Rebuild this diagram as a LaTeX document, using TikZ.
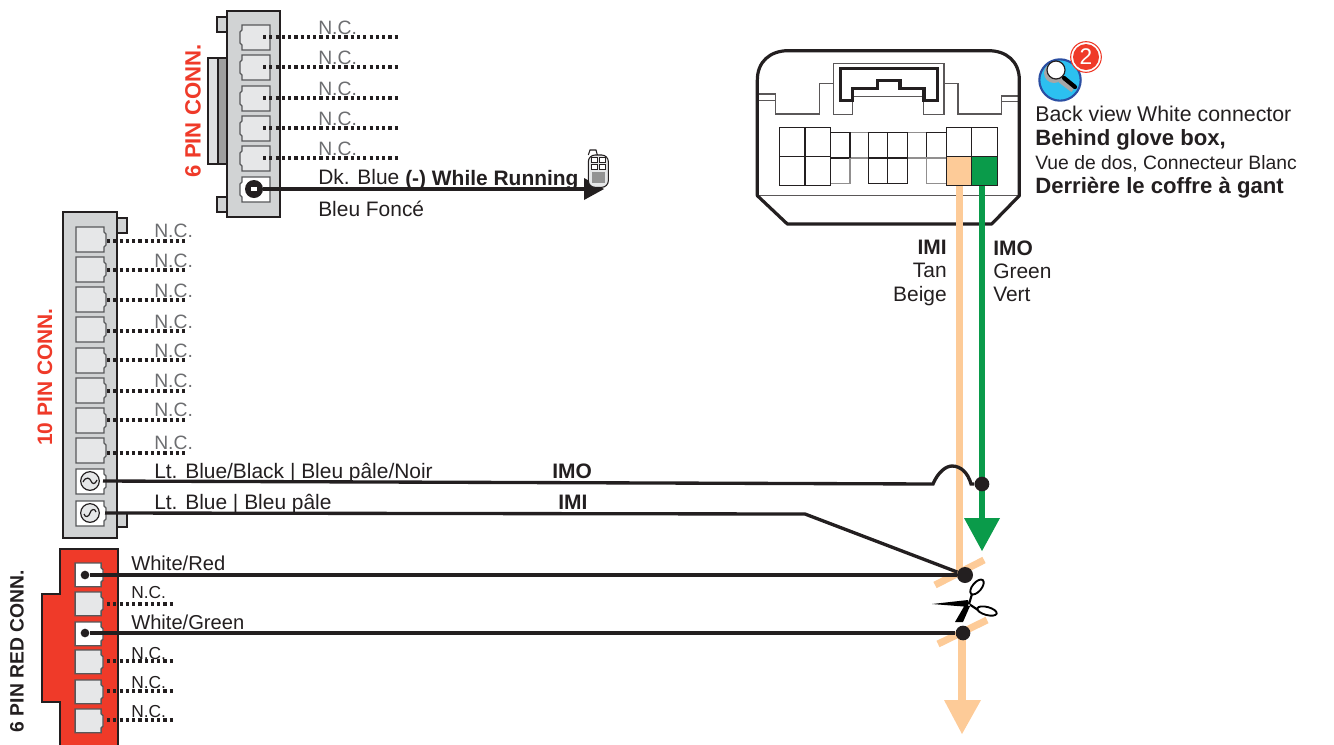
\documentclass[tikz,border=0pt]{standalone}
\usepackage{fontspec}
\setmainfont{Liberation Sans}
\definecolor{ink}{HTML}{231F20}
\definecolor{tanw}{HTML}{FDCB98}
\definecolor{greenw}{HTML}{0A9B4A}
\definecolor{redc}{HTML}{EF3A29}
\definecolor{bodyg}{HTML}{D1D3D4}
\definecolor{ping}{HTML}{E6E7E8}
\definecolor{ncg}{HTML}{6D6E71}
\definecolor{iconb}{HTML}{2CC0F0}
\definecolor{iconr}{HTML}{2B4EA2}
\tikzset{
  x=0.75pt,y=-0.75pt,
  body/.style={draw=ink,line width=1.5pt,line join=miter},
  pinbox/.style={draw=ncg!80!black,line width=1.0pt,fill=ping},
  ncline/.style={draw=ink,line width=2.6pt,dash pattern=on 2.4pt off 2.3pt},
  wire/.style={draw=ink,line width=2.5pt},
  dot/.style={circle,fill=ink,inner sep=0pt},
  lab/.style={anchor=base west,inner sep=0pt,text=ink,font=\fontsize{15.7}{16}\selectfont},
  nctop/.style={lab,text=ncg,font=\fontsize{14.5}{16}\selectfont},
  ncred/.style={lab,font=\fontsize{13}{14}\selectfont},
  labb/.style={lab,font=\bfseries\fontsize{15.7}{16}\selectfont},
  labr/.style={anchor=base east,inner sep=0pt,text=ink,font=\fontsize{15.7}{16}\selectfont},
  labrb/.style={labr,font=\bfseries\fontsize{15.7}{16}\selectfont},
  side/.style={rotate=90,inner sep=0pt},
  thinc/.style={draw=ink!75,line width=0.9pt},
  cell/.style={draw=ink,line width=1.1pt},
  cellg/.style={draw=ink!50,line width=1.0pt},
  tanline/.style={draw=tanw,line width=5.3pt},
  grnline/.style={draw=greenw,line width=5pt},
}
% \pinshape{x}{y}{fill}{xscale}: 30x25 socket, notch toward x=0 side
\newcommand{\pinshape}[4]{%
  \draw[pinbox,fill=#3,shift={(#1,#2)},xscale=#4] (2,0)--(30,0)--(30,25)--(2,25)--(2,20)--(0,18)--(0,7)--(2,5)--cycle;}
\begin{document}
\begin{tikzpicture}
\useasboundingbox (0,0) rectangle (1334,744);

% ---------- top 6 pin connector
\draw[body,fill=bodyg!70] (208,58) rectangle (218,164);
\draw[body,fill=gray!75] (218,58) rectangle (227,164);
\draw[body,fill=bodyg] (217,17) rectangle (227,32);
\draw[body,fill=bodyg] (217,197) rectangle (227,212);
\draw[body,fill=bodyg] (227,11) rectangle (280,217);
\foreach \i/\t/\l/\b in {1/25/37/34,2/55/67/64,3/86/98/95,4/116/128/125,5/146/158/155}{
  \pinshape{240}{\t}{ping}{1}
  \coordinate (ta\i) at (263,\l);
  \coordinate (tb\i) at (400,\l);
  \draw[ncline] (ta\i) -- (tb\i);
  \node[nctop] (tn\i) at (318,\b) {N.C.};
}
\pinshape{240}{177}{white}{1}
\node[dot,minimum size=13.5pt] (tp6) at (254,189) {};
\fill[white] (251,187) rectangle (257,191);
\coordinate (tarrow) at (604,189);
\draw[wire] (tp6) -- (590,189);
\fill[ink] (tarrow) -- (584,178) -- (584,200) -- cycle;
\node[lab] (dk) at (318,184) {Dk. Blue};
\node[labb] (run) at (405,185) {(-) While Running};
\node[lab] (bf) at (318,216) {Bleu Foncé};
\node[side,text=redc,font=\bfseries\fontsize{16.6}{17}\selectfont] (c6) at (193,111) {6 PIN CONN.};

% remote
\begin{scope}[shift={(560,140)},x=0.25pt,y=-0.25pt,line width=0.8pt]
  \draw[ink,fill=white] (85,45) -- (90,30) -- (108,30) -- (112,45);
  \draw[ink,fill=ping,rounded corners=5pt] (85,45) rectangle (145,142);
  \foreach \a/\b in {94/52,118/52,94/73,118/73}
    \draw[ink,fill=white,line width=0.7pt] (\a,\b) rectangle +(17,16);
  \fill[gray!85] (95,95) rectangle (135,130);
\end{scope}

% ---------- 10 pin connector
\draw[body,fill=bodyg] (117,218) rectangle (127,233);
\draw[body,fill=bodyg] (117,513) rectangle (127,527);
\draw[body,fill=bodyg] (63,212) rectangle (117,538);
\foreach \i/\t/\l/\b in {1/227/241/237,2/257/270/267,3/287/300/297,4/317/331/328,5/348/360/357,6/378/391/387,7/408/420/416,8/438/453/449}{
  \pinshape{106}{\t}{ping}{-1}
  \coordinate (ma\i) at (107,\l);
  \coordinate (mb\i) at (188,\l);
  \draw[ncline] (ma\i) -- (mb\i);
  \node[nctop] (mn\i) at (154,\b) {N.C.};
}
\pinshape{106}{469}{white}{-1}
\pinshape{106}{501}{white}{-1}
\node[circle,draw=ink,line width=0.9pt,fill=ping,minimum size=14pt,inner sep=0pt] (m9) at (90,481) {};
\node[circle,draw=ink,line width=0.9pt,fill=ping,minimum size=14pt,inner sep=0pt] (m10) at (90,513) {};
\draw[ink,line width=0.9pt] (83,482) .. controls (86,476) and (90,478) .. (91,481) .. controls (92,484) and (95,485) .. (97,480);
\draw[ink,line width=0.9pt] (84,514) .. controls (85,518) and (89,517) .. (90,513) .. controls (91,509) and (95,508) .. (96,512);
\coordinate (m9s) at (103,481);
\coordinate (m10s) at (105,513);
\node[side,text=redc,font=\bfseries\fontsize{15.7}{17}\selectfont] (c10) at (45,377) {10 PIN CONN.};

% ---------- red 6 pin connector
\draw[body,fill=redc] (60,549) -- (118,549) -- (118,750) -- (60,750) -- (60,702) -- (42,702) -- (42,594) -- (60,594) -- cycle;
\foreach \i/\t in {1/563,3/622}{
  \begin{scope}[shift={(103,\t)},yscale=0.95]\pinshape{0}{0}{white}{-0.93}\end{scope}
}
\foreach \i/\t/\l/\b in {2/592/604/598,4/650/661/659,5/680/691/688,6/709/720/717}{
  \begin{scope}[shift={(103,\t)},yscale=0.95]\pinshape{0}{0}{ping}{-0.93}\end{scope}
  \coordinate (ra\i) at (107,\l);
  \coordinate (rb\i) at (175,\l);
  \draw[ncline] (ra\i) -- (rb\i);
  \node[ncred] (rn\i) at (131,\b) {N.C.};
}
\node[dot,minimum size=6.5pt] (r1) at (85,575) {};
\node[dot,minimum size=6.5pt] (r3) at (85,633) {};
\node[lab,font=\fontsize{15.1}{16}\selectfont] (wr) at (131,570) {White/Red};
\node[lab,font=\fontsize{15.1}{16}\selectfont] (wg) at (131,629) {White/Green};
\node[side,text=ink,font=\bfseries\fontsize{14.5}{16}\selectfont] (c6r) at (17,651) {6 PIN RED CONN.};

% ---------- white connector (back view)
\begin{scope}[shift={(740,30)},x=0.25pt,y=-0.25pt]
  \draw[thinc] (55,192)--(107,192)--(107,252)--(238,252)--(238,160)--(280,160)--(280,100)--(612,100)--(612,160)--(654,160)--(654,252)--(785,252)--(785,198)--(835,198);
  \draw[thinc] (55,212)--(107,212) (785,214)--(835,214);
  \draw[thinc] (280,160)--(280,254)--(338,254)--(338,200)--(550,200)--(550,254)--(612,254)--(612,160);
  \draw[draw=ink,line width=2.4pt,line join=miter] (302,212)--(302,115)--(593,115)--(593,212)--(552,212)--(552,176)--(480,176)--(480,152)--(412,152)--(412,176)--(338,176)--(338,212)--cycle;
  \draw[thinc] (52,497)--(840,497);
  % small cells
  \draw[cellg] (330,308)--(385,308) (330,384)--(385,384) (502,308)--(560,308) (502,384)--(560,384);
  \draw[cell] (272,308)--(330,308)--(330,384)--(272,384);
  \draw[cellg] (272,384)--(272,461)--(330,461)--(330,384);
  \draw[cell] (385,308) rectangle (443,384) (443,308) rectangle (502,384);
  \draw[cell] (385,384) rectangle (443,461) (443,384) rectangle (502,461);
  \draw[cell] (560,308) rectangle (620,384);
  \draw[cellg] (560,384) rectangle (620,461);
  % large cells
  \draw[cell] (118,292) rectangle (195,380) (195,292) rectangle (272,380);
  \draw[cell] (118,380) rectangle (195,467) (195,380) rectangle (272,467);
  \draw[cell] (620,292) rectangle (695,380) (695,292) rectangle (772,380);
  \draw[cell,fill=tanw] (620,380) rectangle (695,467);
  \draw[cell,fill=greenw] (695,380) rectangle (772,467);
  \draw[draw=ink,line width=2.4pt,line join=round] (52,497) -- (52,150) .. controls (52,95) and (90,62) .. (145,62) -- (745,62) .. controls (800,62) and (838,95) .. (838,150) -- (838,497) -- (755,582) -- (142,582) -- cycle;
\end{scope}
\coordinate (tanTop) at (959.7,186);
\coordinate (tanCut) at (959.7,575);
\coordinate (tanLow) at (962,633);
\coordinate (tanEnd) at (962,702);
\coordinate (grnTop) at (982,186);
\coordinate (grnEnd) at (982,520);
\draw[tanline] (tanTop) -- (tanCut);
\draw[tanline] (tanLow) -- (tanEnd);
\fill[tanw] (944,700) -- (981,700) -- (962,734) -- cycle;
\draw[grnline] (grnTop) -- (grnEnd);
\fill[greenw] (964,518) -- (1000,518) -- (982,551) -- cycle;
\coordinate (c1a) at (935,585);
\coordinate (c1b) at (984,560);
\coordinate (c2a) at (938,644);
\coordinate (c2b) at (987,620);
\draw[tanline] (c1a) -- (c1b);
\draw[tanline] (c2a) -- (c2b);

\node[labrb] (imit) at (947,254) {IMI};
\node[labr] (tan) at (947,277) {Tan};
\node[labr] (beige) at (947,301) {Beige};
\node[labb] (imot) at (993,255) {IMO};
\node[lab] (green) at (993,278) {Green};
\node[lab] (vert) at (993,301) {Vert};

% ---------- long wires
\node[dot,minimum size=11pt] (jg) at (982,484) {};
\node[dot,minimum size=12pt] (j1) at (965,575) {};
\node[dot,minimum size=11pt] (j2) at (963,633) {};
\coordinate (hop1) at (933,484);
\coordinate (hop2) at (971,484);
\coordinate (bend) at (805,514);
\draw[wire] (m9s) -- (hop1) .. controls (938,472) and (946,466) .. (952,466) .. controls (961,466) and (968,473) .. (hop2) -- (jg);
\draw[wire] (m10s) -- (bend) -- (j1);
\draw[wire] (r1) -- (j1);
\draw[wire] (r3) -- (j2);
\node[lab] (lbb) at (154,478) {Lt. Blue/Black | Bleu pâle/Noir};
\node[labb] (imol) at (552,478) {IMO};
\node[lab] (lb) at (154,509) {Lt. Blue | Bleu pâle};
\node[labb] (imil) at (558,509) {IMI};

% ---------- scissors
\fill[black] (932,604) -- (968,600) -- (970,607) -- cycle;
\fill[black] (955,622) -- (963,622) -- (970,606) -- (966,603) -- cycle;
\draw[black,line width=1.4pt,rotate around={50:(977,587)}] (977,587) ellipse (9 and 4.5);
\draw[black,line width=1.4pt,rotate around={-15:(987,611)}] (987,611) ellipse (10 and 4);
\draw[black,line width=1.6pt] (969,604) -- (972,594);
\draw[black,line width=1.6pt] (969,604) -- (978,610);
\fill[white] (969,605) circle (1);

% ---------- info icon
\node[circle,draw=iconr,line width=1.6pt,fill=iconb,minimum size=31pt,inner sep=0pt] (ic) at (1060,80) {};
\fill[gray!70] (1054,73) circle (10);
\draw[gray!70,line width=4pt] (1060,80) -- (1073,90);
\draw[black,line width=3.2pt,line cap=round] (1064,78) -- (1075,87);
\draw[ink,line width=0.9pt,fill=white] (1056,70) circle (9);
\node[circle,draw=redc,line width=0.8pt,fill=white,minimum size=23pt,inner sep=0pt] (bd0) at (1086,57) {};
\node[circle,fill=redc,minimum size=19.5pt,inner sep=0pt,text=white,font=\fontsize{17}{17}\selectfont] (bd) at (1086,57) {2};

% ---------- note
\node[lab,font=\fontsize{16}{16}\selectfont] (n1) at (1035,121) {Back view White connector};
\node[labb,font=\bfseries\fontsize{16.6}{16}\selectfont] (n2) at (1035,145) {Behind glove box,};
\node[lab,font=\fontsize{14.5}{16}\selectfont] (n3) at (1035,169) {Vue de dos, Connecteur Blanc};
\node[labb,font=\bfseries\fontsize{16.6}{16}\selectfont] (n4) at (1035,193) {Derrière le coffre à gant};
\end{tikzpicture}
\end{document}
